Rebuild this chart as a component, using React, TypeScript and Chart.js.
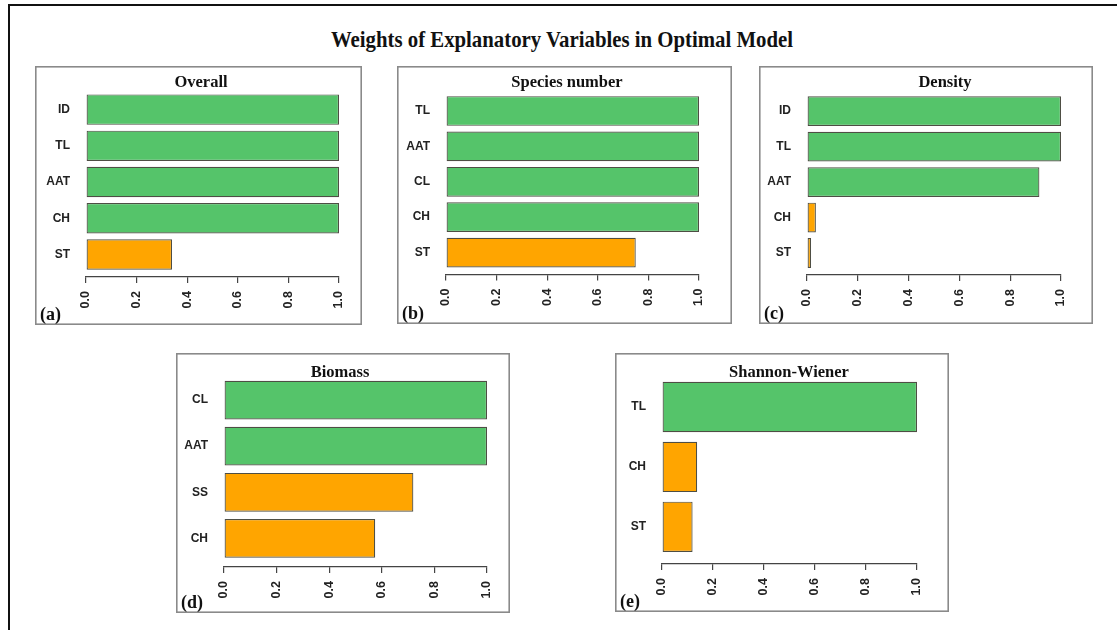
import React, { useEffect, useRef } from "react";
import { Chart, registerables } from "chart.js";

Chart.register(...registerables);

// ---- data -------------------------------------------------------------
const mainTitle = "Weights of Explanatory Variables in Optimal Model";

const overallVars = ["ID", "TL", "AAT", "CH", "ST"];
const overallWeights = [1, 1, 1, 1, 0.34];
const overallKey = [true, true, true, true, false];

const speciesVars = ["TL", "AAT", "CL", "CH", "ST"];
const speciesWeights = [1, 1, 1, 1, 0.75];
const speciesKey = [true, true, true, true, false];

const densityVars = ["ID", "TL", "AAT", "CH", "ST"];
const densityWeights = [1, 1, 0.915, 0.035, 0.016];
const densityKey = [true, true, true, false, false];

const biomassVars = ["CL", "AAT", "SS", "CH"];
const biomassWeights = [1, 1, 0.72, 0.575];
const biomassKey = [true, true, false, false];

const shannonVars = ["TL", "CH", "ST"];
const shannonWeights = [1, 0.138, 0.12];
const shannonKey = [true, false, false];

const weightTicks = [0, 0.2, 0.4, 0.6, 0.8, 1.0];

// ---- styling ----------------------------------------------------------
const GREEN = "#55C46A";
const ORANGE = "#FFA500";
const BAR_EDGE = "#4e4e44";
const AXIS = "#444444";
const SANS = '"Liberation Sans", Arial, sans-serif';
const SERIF = '"Liberation Serif", "Times New Roman", serif';

type Rect = { left: number; top: number; right: number; bottom: number };
type Plot = { left: number; top: number; right: number; axis: number };

interface PanelSpec {
  tag: string;
  title: string;
  vars: string[];
  weights: number[];
  key: boolean[];
  frame: Rect;
  plot: Plot;
  titleX: number;
  titleBase: number;
}

const panels: PanelSpec[] = [
  {
    tag: "(a)", title: "Overall", vars: overallVars, weights: overallWeights, key: overallKey,
    frame: { left: 35, top: 66, right: 362, bottom: 325 },
    plot: { left: 86, top: 91.5, right: 348, axis: 277 },
    titleX: 201, titleBase: 87,
  },
  {
    tag: "(b)", title: "Species number", vars: speciesVars, weights: speciesWeights, key: speciesKey,
    frame: { left: 397, top: 66, right: 732, bottom: 324 },
    plot: { left: 446, top: 93.3, right: 699, axis: 274.5 },
    titleX: 567, titleBase: 87,
  },
  {
    tag: "(c)", title: "Density", vars: densityVars, weights: densityWeights, key: densityKey,
    frame: { left: 759, top: 66, right: 1093, bottom: 324 },
    plot: { left: 807, top: 93.4, right: 1061, axis: 275 },
    titleX: 945, titleBase: 87,
  },
  {
    tag: "(d)", title: "Biomass", vars: biomassVars, weights: biomassWeights, key: biomassKey,
    frame: { left: 176, top: 353, right: 510, bottom: 613 },
    plot: { left: 224, top: 377, right: 487, axis: 567 },
    titleX: 340, titleBase: 377,
  },
  {
    tag: "(e)", title: "Shannon-Wiener", vars: shannonVars, weights: shannonWeights, key: shannonKey,
    frame: { left: 615, top: 353, right: 949, bottom: 612 },
    plot: { left: 662, top: 377, right: 917, axis: 564 },
    titleX: 789, titleBase: 377,
  },
];

// Extra room below the last bar before the axis, in category units
const BOTTOM_GAP = 0.12;

function Panel({ spec }: { spec: PanelSpec }) {
  const ref = useRef<HTMLCanvasElement | null>(null);
  const { frame, plot } = spec;
  const w = frame.right - frame.left;
  const h = frame.bottom - frame.top;

  useEffect(() => {
    const canvas = ref.current;
    if (!canvas) return;
    const n = spec.vars.length;

    const decor = {
      id: "panelDecor",
      afterDraw(chart: any) {
        const ctx = chart.ctx as CanvasRenderingContext2D;
        ctx.save();
        // panel box
        ctx.strokeStyle = "#8a8a8a";
        ctx.lineWidth = 1.6;
        ctx.strokeRect(0.8, 0.8, w - 1.6, h - 1.6);
        // panel title
        ctx.fillStyle = "#111";
        ctx.font = `bold 16.5px ${SERIF}`;
        ctx.textAlign = "center";
        ctx.textBaseline = "alphabetic";
        ctx.fillText(spec.title, spec.titleX - frame.left, spec.titleBase - frame.top);
        // panel tag
        ctx.font = `bold 18px ${SERIF}`;
        ctx.textAlign = "left";
        ctx.fillText(spec.tag, 5, h - 5);
        ctx.restore();
      },
    };

    const chart = new Chart(canvas, {
      type: "bar",
      data: {
        datasets: [
          {
            data: spec.weights.map((v, i) => ({ x: v, y: i })),
            backgroundColor: spec.key.map((k) => (k ? GREEN : ORANGE)),
            borderColor: BAR_EDGE,
            borderWidth: 1.2,
            borderSkipped: false,
            barPercentage: 0.84,
            categoryPercentage: 1,
          },
        ],
      },
      options: {
        indexAxis: "y",
        animation: false,
        responsive: false,
        maintainAspectRatio: false,
        devicePixelRatio: 1,
        layout: {
          padding: {
            left: 0,
            top: plot.top - frame.top,
            right: frame.right - plot.right,
            bottom: 0,
          },
        },
        plugins: {
          legend: { display: false },
          tooltip: { enabled: false },
          title: { display: false },
        },
        scales: {
          x: {
            type: "linear",
            position: "bottom",
            offset: false,
            min: 0,
            max: 1,
            afterFit: (s: any) => {
              s.height = frame.bottom - plot.axis;
            },
            afterBuildTicks: (s: any) => {
              s.ticks = weightTicks.map((value) => ({ value }));
            },
            grid: {
              display: true,
              offset: false,
              drawOnChartArea: false,
              drawTicks: true,
              tickLength: 6,
              color: AXIS,
              lineWidth: 1.2,
            },
            border: { display: true, color: AXIS, width: 1.2 },
            ticks: {
              autoSkip: false,
              minRotation: 90,
              maxRotation: 90,
              padding: 8,
              color: "#222",
              font: { family: SANS, weight: "bold", size: 12.5 },
              callback: (v: any) => Number(v).toFixed(1),
            },
          },
          y: {
            type: "linear",
            offset: false,
            reverse: true,
            min: -0.5,
            max: n - 0.5 + BOTTOM_GAP,
            afterFit: (s: any) => {
              s.width = plot.left - frame.left;
            },
            afterBuildTicks: (s: any) => {
              s.ticks = spec.vars.map((_, i) => ({ value: i }));
            },
            grid: { display: false, drawTicks: false, offset: false },
            border: { display: false },
            ticks: {
              autoSkip: false,
              padding: 16,
              color: "#222",
              font: { family: SANS, weight: "bold", size: 12 },
              callback: (v: any) => spec.vars[Math.round(Number(v))] ?? "",
            },
          },
        },
      } as any,
      plugins: [decor],
    });

    return () => chart.destroy();
  }, [spec]);

  return (
    <canvas
      ref={ref}
      width={w}
      height={h}
      style={{
        position: "absolute",
        left: frame.left,
        top: frame.top,
        width: w,
        height: h,
      }}
    />
  );
}

export default function App() {
  return (
    <div
      style={{
        position: "absolute",
        left: 0,
        top: 0,
        width: 1117,
        height: 630,
        overflow: "hidden",
        background: "#fff",
      }}
    >
      <div
        style={{
          position: "absolute",
          left: 8,
          top: 4,
          width: 1300,
          height: 800,
          borderTop: "2px solid #111",
          borderLeft: "2px solid #111",
        }}
      />
      <div
        style={{
          position: "absolute",
          left: 0,
          top: 29,
          width: 1124,
          textAlign: "center",
          fontFamily: SERIF,
          fontWeight: "bold",
          fontSize: 20.8,
          lineHeight: "20px",
          color: "#111",
          transform: "scaleY(1.12)",
        }}
      >
        {mainTitle}
      </div>
      {panels.map((p) => (
        <Panel key={p.tag} spec={p} />
      ))}
    </div>
  );
}
